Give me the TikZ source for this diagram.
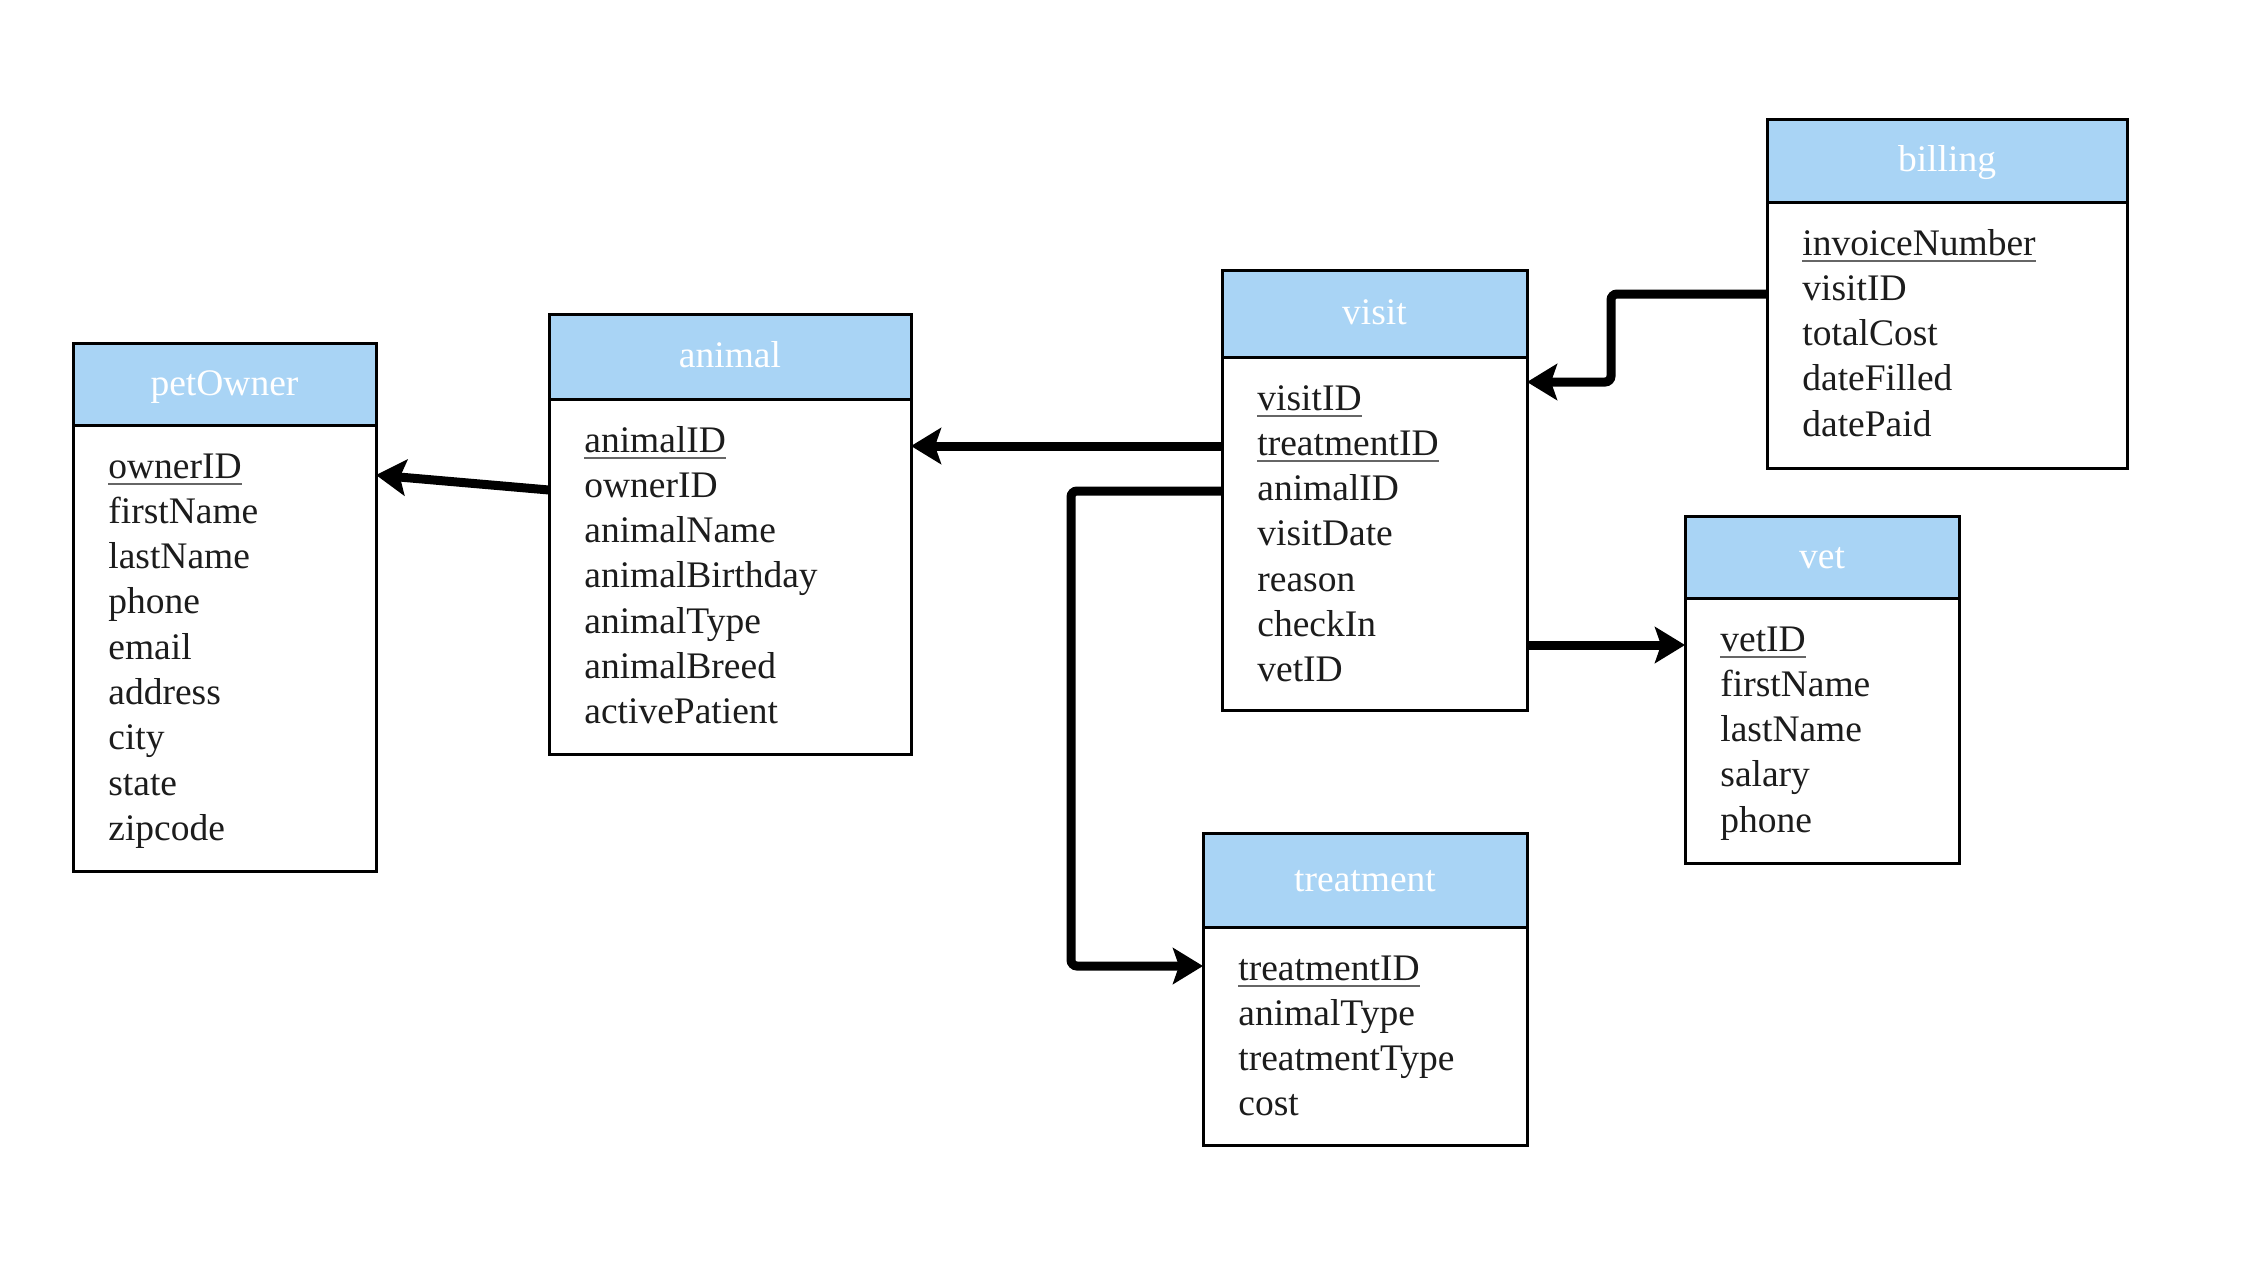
\documentclass[tikz,border=0pt]{standalone}
\usepackage{fontspec}
\setmainfont{Liberation Serif}
\usetikzlibrary{arrows.meta,calc}

\definecolor{hdrblue}{RGB}{169,212,245}
\definecolor{ink}{RGB}{28,28,28}

% primary-key field: text with a thin grey rule beneath it
\newcommand\pkey[1]{\setbox0\hbox{#1}\rlap{\color{black!60}\rule[-3.3pt]{\wd0}{0.8pt}}\box0}

\tikzset{
  tblfont/.style={font=\fontsize{18.75pt}{22pt}\selectfont},
  tblhead/.style 2 args={draw=black, line width=1.5pt, fill=hdrblue, outer sep=0pt,
    inner sep=0pt, minimum width=#1*0.5pt, minimum height=#2*0.5pt, anchor=north west},
  tblbody/.style 2 args={draw=black, line width=1.5pt, fill=white, outer sep=0pt,
    inner sep=0pt, minimum width=#1*0.5pt, minimum height=#2*0.5pt, anchor=north west},
  tbltitle/.style={tblfont, text=white, anchor=base, inner sep=0pt},
  tblrow/.style={tblfont, text=ink, anchor=base west, inner sep=0pt},
  conn/.style={line width=4.5pt, rounded corners=3pt,
    -{Stealth[length=15pt, width=18pt, inset=3pt]}},
}

% #1 name, #2 x, #3 top, #4 width, #5 header height, #6 body height, #7 title, #8 fields
\newcommand\erdtable[8]{%
  \node[tblhead={#4}{#5}] (#1-h) at (#2,#3) {};
  \node[tblbody={#4}{#6}] (#1) at (#1-h.south west) {};
  \node[tbltitle] (#1-t) at ($(#1-h.center)+(0,11)$) {#7};
  \foreach \txt [count=\i] in {#8}
    \node[tblrow] (#1-\i) at ($(#1.north west)+(35,{53+45.3*(\i-1)})$) {\txt};
}

\begin{document}
\begin{tikzpicture}[x=0.5pt, y=-0.5pt]
\useasboundingbox (0,0) rectangle (2249,1260);

\erdtable{po}{73}{343}{303}{82}{446}{petOwner}
  {\pkey{ownerID},firstName,lastName,phone,email,address,city,state,zipcode}
\erdtable{an}{549}{314}{362}{85}{355}{animal}
  {\pkey{animalID},ownerID,animalName,animalBirthday,animalType,animalBreed,activePatient}
\erdtable{vi}{1222}{270}{305}{87}{353}{visit}
  {\pkey{visitID},\pkey{treatmentID},animalID,visitDate,reason,checkIn,vetID}
\erdtable{bi}{1767}{119}{360}{83}{266}{billing}
  {\pkey{invoiceNumber},visitID,totalCost,dateFilled,datePaid}
\erdtable{ve}{1685}{516}{274}{82}{265}{vet}
  {\pkey{vetID},firstName,lastName,salary,phone}
\erdtable{tr}{1203}{833}{324}{94}{218}{treatment}
  {\pkey{treatmentID},animalType,treatmentType,cost}

% connector end points on the table borders
\coordinate (anOut) at ($(an.north west)+(0,91)$);
\coordinate (poIn)  at ($(po.north east)+(0,50)$);
\coordinate (viOutA) at ($(vi.north west)+(0,89)$);
\coordinate (viOutT) at ($(vi.north west)+(0,134)$);
\coordinate (trIn)  at ($(tr.north west)+(0,39)$);
\coordinate (biOut) at ($(bi.north west)+(0,92)$);
\coordinate (viIn)  at ($(vi.north east)+(0,25)$);
\coordinate (viOutV) at ($(vi.north east)+(0,288)$);

\draw[conn] (anOut) -- (poIn);
\draw[conn] (viOutA) -- (an.east |- viOutA);
\draw[conn] (viOutT) -- ++(-151,0) |- (trIn);
\draw[conn] (biOut) -- ++(-156,0) |- (viIn);
\draw[conn] (viOutV) -- (ve.west |- viOutV);
\end{tikzpicture}
\end{document}
